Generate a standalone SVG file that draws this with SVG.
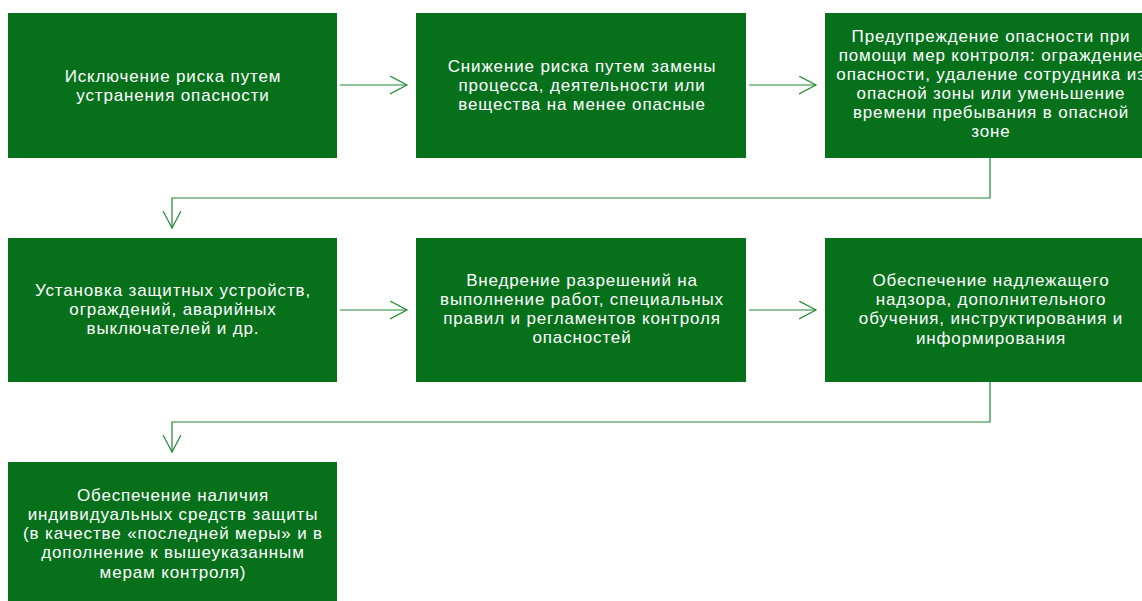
<svg xmlns="http://www.w3.org/2000/svg" width="1142" height="601" viewBox="0 0 1142 601">
<defs>
<style>
.box{fill:#06701B;}
.t{font-family:"Liberation Sans",Arial,sans-serif;font-size:17px;letter-spacing:0.85px;fill:#ffffff;text-anchor:middle;}
.c{fill:none;stroke:#1E8A30;stroke-width:1.2;}
</style>
<marker id="ah" markerWidth="20" markerHeight="20" refX="17" refY="9" orient="auto" markerUnits="userSpaceOnUse">
<path d="M0,0 L17,9 L0,18" fill="none" stroke="#1E8A30" stroke-width="1.2"/>
</marker>
</defs>
<rect width="1142" height="601" fill="#ffffff"/>
<g id="connectors">
<line class="c" x1="340" y1="85" x2="407" y2="85" marker-end="url(#ah)"/>
<line class="c" x1="749" y1="85" x2="816" y2="85" marker-end="url(#ah)"/>
<polyline class="c" points="990,158 990,198 172,198 172,228" marker-end="url(#ah)"/>
<line class="c" x1="340" y1="310" x2="407" y2="310" marker-end="url(#ah)"/>
<line class="c" x1="749" y1="310" x2="816" y2="310" marker-end="url(#ah)"/>
<polyline class="c" points="990,382 990,422 172,422 172,452" marker-end="url(#ah)"/>
</g>
<g id="n1">
<rect class="box" x="8" y="13" width="329" height="145"/>
<text class="t" x="173" y="82">Исключение риска путем</text>
<text class="t" x="173" y="101">устранения опасности</text>
</g>
<g id="n2">
<rect class="box" x="416" y="13" width="330" height="145"/>
<text class="t" x="582" y="72">Снижение риска путем замены</text>
<text class="t" x="582" y="91">процесса, деятельности или</text>
<text class="t" x="582" y="110">вещества на менее опасные</text>
</g>
<g id="n3">
<rect class="box" x="825" y="13" width="330" height="145"/>
<text class="t" x="991" y="42">Предупреждение опасности при</text>
<text class="t" x="991" y="61">помощи мер контроля: ограждение</text>
<text class="t" x="991" y="80">опасности, удаление сотрудника из</text>
<text class="t" x="991" y="99">опасной зоны или уменьшение</text>
<text class="t" x="991" y="118">времени пребывания в опасной</text>
<text class="t" x="991" y="137">зоне</text>
</g>
<g id="n4">
<rect class="box" x="8" y="238" width="329" height="144"/>
<text class="t" x="173" y="296">Установка защитных устройств,</text>
<text class="t" x="173" y="315">ограждений, аварийных</text>
<text class="t" x="173" y="334">выключателей и др.</text>
</g>
<g id="n5">
<rect class="box" x="416" y="238" width="330" height="144"/>
<text class="t" x="582" y="286">Внедрение разрешений на</text>
<text class="t" x="582" y="305">выполнение работ, специальных</text>
<text class="t" x="582" y="324">правил и регламентов контроля</text>
<text class="t" x="582" y="343">опасностей</text>
</g>
<g id="n6">
<rect class="box" x="825" y="238" width="330" height="144"/>
<text class="t" x="991" y="286">Обеспечение надлежащего</text>
<text class="t" x="991" y="305">надзора, дополнительного</text>
<text class="t" x="991" y="324">обучения, инструктирования и</text>
<text class="t" x="991" y="344">информирования</text>
</g>
<g id="n7">
<rect class="box" x="8" y="462" width="329" height="145"/>
<text class="t" x="173" y="501">Обеспечение наличия</text>
<text class="t" x="173" y="520">индивидуальных средств защиты</text>
<text class="t" x="173" y="539">(в качестве «последней меры» и в</text>
<text class="t" x="173" y="558">дополнение к вышеуказанным</text>
<text class="t" x="173" y="578">мерам контроля)</text>
</g>
</svg>
